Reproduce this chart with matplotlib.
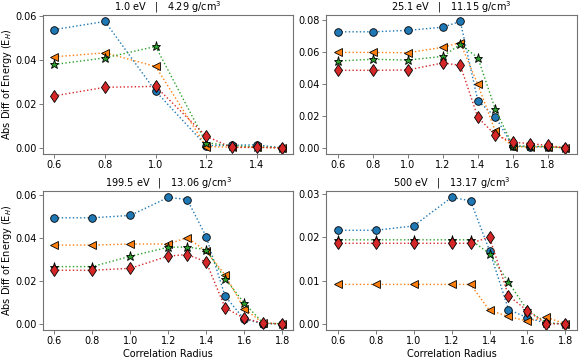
import matplotlib
matplotlib.use("Agg")
import matplotlib.pyplot as plt
from matplotlib.ticker import FormatStrFormatter

titles = ["1.0 eV   |   4.29 g/cm$^3$", "25.1 eV   |   11.15 g/cm$^3$",
          "199.5 eV   |   13.06 g/cm$^3$", "500 eV   |   13.17 g/cm$^3$"]

x1 = [0.6, 0.8, 1.0, 1.2, 1.3, 1.4, 1.5]
p1_blue = [0.0539, 0.0576, 0.0258, 0.0010, 0.0012, 0.0014, 0.0]
p1_orange = [0.0415, 0.0433, 0.0371, 0.0006, 0.0003, 0.0003, 0.0]
p1_green = [0.0380, 0.0410, 0.0462, 0.0023, 0.0010, 0.0005, 0.0]
p1_red = [0.0237, 0.0276, 0.0280, 0.0053, 0.0002, 0.0002, 0.0]

x2 = [0.6, 0.8, 1.0, 1.2, 1.3, 1.4, 1.5, 1.6, 1.7, 1.8, 1.9]
p2_blue = [0.0727, 0.0727, 0.0736, 0.0756, 0.0792, 0.0295, 0.0195, 0.0010, 0.0008, 0.0006, 0.0]
p2_orange = [0.0598, 0.0598, 0.0596, 0.0630, 0.0659, 0.0397, 0.0104, 0.0008, 0.0005, 0.0008, 0.0]
p2_green = [0.0544, 0.0555, 0.0550, 0.0573, 0.0648, 0.0565, 0.0241, 0.0012, 0.0010, 0.0008, 0.0]
p2_red = [0.0486, 0.0486, 0.0488, 0.0532, 0.0517, 0.0191, 0.0081, 0.0035, 0.0027, 0.0015, 0.0]

x3 = [0.6, 0.8, 1.0, 1.2, 1.3, 1.4, 1.5, 1.6, 1.7, 1.8]
p3_blue = [0.0493, 0.0493, 0.0504, 0.0588, 0.0578, 0.0405, 0.0128, 0.0022, 0.0, 0.0]
p3_orange = [0.0366, 0.0366, 0.0371, 0.0371, 0.0401, 0.0337, 0.0227, 0.0071, 0.0003, 0.0]
p3_green = [0.0266, 0.0266, 0.0314, 0.0356, 0.0357, 0.0345, 0.0209, 0.0097, 0.0003, 0.0]
p3_red = [0.0249, 0.0249, 0.0258, 0.0315, 0.0322, 0.0288, 0.0074, 0.0026, 0.0003, 0.0]

x4 = [0.6, 0.8, 1.0, 1.2, 1.3, 1.4, 1.5, 1.6, 1.7, 1.8]
p4_blue = [0.0216, 0.0216, 0.0226, 0.0292, 0.0284, 0.0169, 0.0033, 0.0014, 0.0001, 0.0]
p4_orange = [0.0091, 0.0091, 0.0091, 0.0091, 0.0091, 0.0031, 0.0017, 0.0006, 0.0015, 0.0]
p4_green = [0.0194, 0.0194, 0.0194, 0.0194, 0.0194, 0.0162, 0.0096, 0.0031, 0.0002, 0.0]
p4_red = [0.0186, 0.0186, 0.0186, 0.0186, 0.0186, 0.0200, 0.0065, 0.0030, 0.0, 0.0]

xticks1 = [0.6, 0.8, 1.0, 1.2, 1.4]
xticks_rest = [0.6, 0.8, 1.0, 1.2, 1.4, 1.6, 1.8]
yticks1 = [0.00, 0.02, 0.04, 0.06]
yticks2 = [0.00, 0.02, 0.04, 0.06, 0.08]
yticks3 = [0.00, 0.02, 0.04, 0.06]
yticks4 = [0.00, 0.01, 0.02, 0.03]

panels = [
    (x1, [p1_blue, p1_orange, p1_green, p1_red], xticks1, yticks1),
    (x2, [p2_blue, p2_orange, p2_green, p2_red], xticks_rest, yticks2),
    (x3, [p3_blue, p3_orange, p3_green, p3_red], xticks_rest, yticks3),
    (x4, [p4_blue, p4_orange, p4_green, p4_red], xticks_rest, yticks4),
]

colors = ["tab:blue", "tab:orange", "tab:green", "tab:red"]
markers = ["o", "<", "*", "d"]
sizes = [5.5, 6, 6.5, 6.5]

plt.rcParams['font.size'] = 7
fig, axes = plt.subplots(2, 2, figsize=(5.85, 3.6), dpi=100)
fig.subplots_adjust(left=0.0735, right=0.986, top=0.958, bottom=0.083,
                    wspace=0.131, hspace=0.265)

for i, (ax, (xs, series, xt, yt)) in enumerate(zip(axes.flat, panels)):
    for ys, c, m, s in zip(series, colors, markers, sizes):
        ax.plot(xs, ys, linestyle=':', color=c, marker=m, markersize=s,
                markeredgecolor='black', markeredgewidth=0.6, linewidth=1.0)
    ax.set_xticks(xt)
    ax.set_yticks(yt)
    ax.yaxis.set_major_formatter(FormatStrFormatter('%.2f'))
    ax.set_title(titles[i], fontsize=7, pad=2)
    ax.tick_params(labelsize=7, length=3, width=0.6, color='0.4', pad=1.5)
    for sp in ax.spines.values():
        sp.set_color('0.45')
        sp.set_linewidth(0.8)
    if i % 2 == 0:
        ax.set_ylabel("Abs Diff of Energy (E$_H$)", fontsize=7)
        ax.yaxis.set_label_coords(-0.115, 0.5)
    if i >= 2:
        ax.set_xlabel("Correlation Radius", fontsize=7, labelpad=2)

fig.savefig("out.png", dpi=100)
